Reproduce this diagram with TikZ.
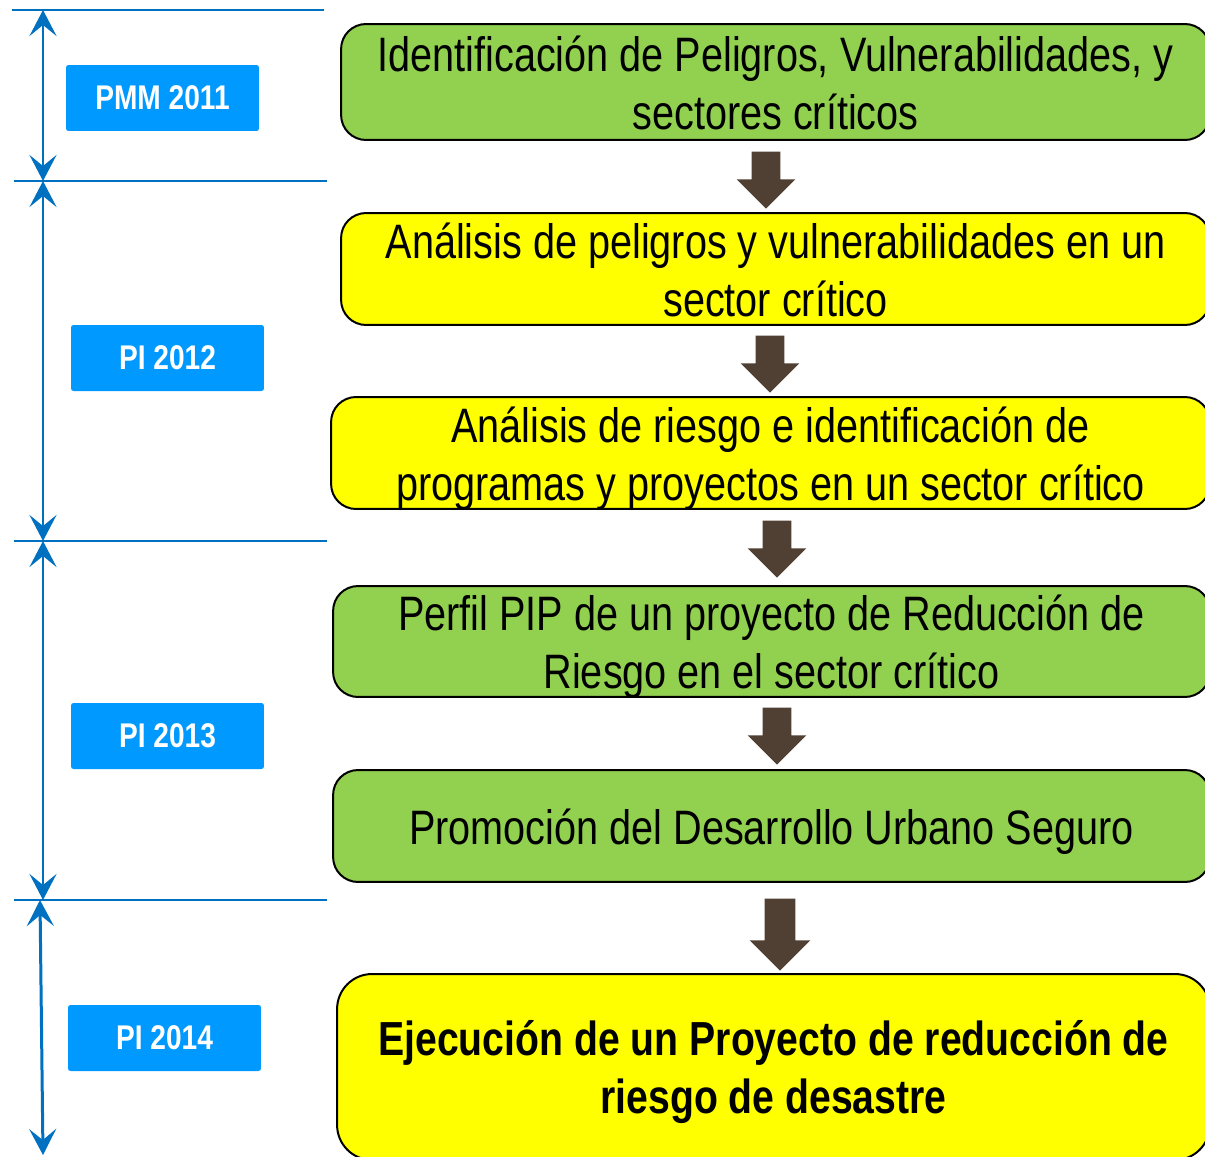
\documentclass[tikz,border=0pt]{standalone}
\usepackage{fontspec}
\setmainfont[FakeStretch=0.82]{Liberation Sans}
\usetikzlibrary{arrows.meta,shapes.arrows}

\definecolor{verde}{HTML}{92D050}
\definecolor{amarillo}{HTML}{FFFF00}
\definecolor{azul}{HTML}{0070C0}
\definecolor{celeste}{HTML}{0099FF}
\definecolor{cafe}{HTML}{503F33}

% altura fija de la primera y ultima linea
\newcommand{\arriba}{\rule{0pt}{1em}}
\newcommand{\abajo}{\rule[-0.25em]{0pt}{0.25em}}

\tikzset{
  etapa/.style={rectangle, rounded corners=0.5cm, draw=black, line width=0.04cm, align=center, inner xsep=0pt, inner ysep=-0.1cm, font=\fontsize{27.5}{33}\selectfont, minimum height=2.24cm, minimum width=17.5cm},
  plazo/.style={rectangle, rounded corners=0.05cm, fill=celeste, text=white, font=\fontsize{19.5}{22}\selectfont\bfseries, minimum width=3.86cm, minimum height=1.32cm},
  flecha/.style={single arrow, fill=cafe, rotate=-90, inner sep=0.28cm, single arrow head extend=0.3cm, minimum height=1.14cm},
  tiempo/.style={azul, line width=0.06cm, {Stealth[length=0.52cm,width=0.54cm,inset=0.22cm]}-{Stealth[length=0.52cm,width=0.54cm,inset=0.22cm]}},
}

\begin{document}
\begin{tikzpicture}[x=0.02cm,y=-0.02cm]
    \useasboundingbox (0,0) rectangle (1205,1157);
    \clip (0,0) rectangle (1205,1157);

    % etapas
    \node[etapa, fill=verde, minimum width=17.38cm, minimum height=2.32cm] (ident) at (775.5,82) {\arriba Identificación de Peligros, Vulnerabilidades, y\\sectores críticos\abajo};
    \node[etapa, fill=amarillo, minimum width=17.38cm] (analpel) at (775.5,269) {\arriba Análisis de peligros y vulnerabilidades en un\\sector crítico\abajo};
    \node[etapa, fill=amarillo, minimum width=17.58cm] (analries) at (770.5,453) {\arriba Análisis de riesgo e identificación de\\programas y proyectos en un sector crítico\abajo};
    \node[etapa, fill=verde, minimum width=17.54cm, minimum height=2.22cm] (perfil) at (771.5,641.5) {\arriba Perfil PIP de un proyecto de Reducción de\\Riesgo en el sector crítico\abajo};
    \node[etapa, fill=verde, minimum width=17.54cm] (promo) at (771.5,826) {\arriba Promoción del Desarrollo Urbano Seguro\abajo};
    \node[etapa, fill=amarillo, minimum width=17.46cm, minimum height=3.72cm, rounded corners=0.7cm, font=\fontsize{27.2}{33}\selectfont\bfseries] (ejec) at (773.5,1067) {\arriba Ejecución de un Proyecto de reducción de\\riesgo de desastre\abajo};

    % flechas entre etapas
    \foreach[count=\i] \x/\y in {766/173,770/357,777/542,777/729}
    {
        \node[flecha] (f\i) at (\x,\y) {};
    }
    \node[flecha, minimum height=1.44cm, inner sep=0.3cm] (f5) at (780,927) {};

    % linea de tiempo
    \foreach \y/\a/\b in {10/12/324,181/14/327,541/14/327,900/14/327}
        \draw[azul, line width=0.05cm] (\a,\y) -- (\b,\y);
    \coordinate (t0) at (43,10);
    \coordinate (t1) at (43,181);
    \coordinate (t2) at (43,541);
    \coordinate (t3) at (43,900);
    \coordinate (t3b) at (40,900);
    \coordinate (t4) at (43,1155);
    \draw[tiempo] (t0) -- (t1);
    \draw[tiempo] (t1) -- (t2);
    \draw[tiempo] (t2) -- (t3);
    \draw[tiempo] (t3b) -- (t4);

    \node[plazo] (pmm) at (162.5,98) {PMM 2011};
    \node[plazo] (pi12) at (167.5,358) {PI 2012};
    \node[plazo] (pi13) at (167.5,736) {PI 2013};
    \node[plazo] (pi14) at (164.5,1038) {PI 2014};

\end{tikzpicture}
\end{document}
